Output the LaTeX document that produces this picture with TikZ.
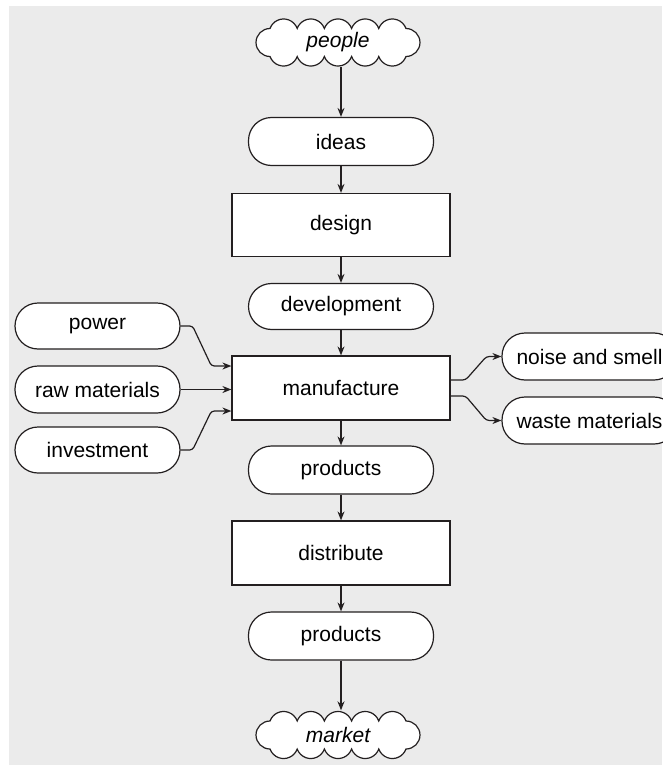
\documentclass[tikz,border=0pt]{standalone}
\usepackage{fontspec}
\setmainfont{Liberation Sans}
\usetikzlibrary{arrows.meta}
\definecolor{panel}{HTML}{EBEBEB}
\definecolor{ink}{HTML}{231F20}

% cloud outline around a point: name, position, text
\newcommand\puffcloud[3]{%
	\begin{scope}[shift={#2}, y=1pt]
		\draw[cloudline] (-68, -14) arc (270:90:14)
			\foreach \k in {1,...,5} {arc (160:20:14.47)}
			arc (90:-90:14)
			\foreach \k in {1,...,5} {arc (-20:-160:14.47)} -- cycle;
	\end{scope}
	\node[cloudtext] (#1) at #2 {#3};
}

\tikzset{
	base/.style={draw=ink, fill=white, line width=1.2pt, inner sep=0pt, font=\fontsize{21}{25}\selectfont},
	stagebox/.style={base, rectangle, minimum width=218pt, minimum height=63pt},
	itembox/.style={base, rectangle, rounded corners=23pt, minimum width=185pt, minimum height=48pt},
	sidebox/.style={itembox, minimum width=165pt, minimum height=46pt},
	outbox/.style={itembox, minimum width=175pt, minimum height=47pt},
	cloudline/.style={draw=ink, fill=white, line width=1.2pt},
	cloudtext/.style={inner sep=0pt, minimum width=165pt, minimum height=49pt, font=\fontsize{21}{25}\selectfont\itshape},
	flow/.style={draw=ink, line width=1.2pt, rounded corners=3pt, -{Stealth[length=9pt,width=7pt]}}
}

\begin{document}
\begin{tikzpicture}[x=1pt, y=-1pt]
			%%%%% START %%%%%
			\useasboundingbox (0, 0) rectangle (662, 765);
			\fill[panel] (9, 6) rectangle (662, 765);
			
			% main column
			\puffcloud{people}{(338, 42.5)}{people}
			\node[itembox] (ideas) at (341, 141.5) {ideas};
			\node[stagebox] (design) at (341, 225) {design};
			\node[itembox, minimum height=46pt] (devel) at (341, 306.5) {development};
			\node[stagebox, minimum height=64pt] (manuf) at (341, 388) {manufacture};
			\node[itembox] (prod) at (341, 470) {products};
			\node[stagebox, minimum height=64pt] (distr) at (341, 553) {distribute};
			\node[itembox] (prodb) at (341, 636) {products};
			\puffcloud{market}{(338, 735)}{market}
			
			% inputs and outputs of manufacture
			\node[sidebox] (power) at (97.5, 326) {power};
			\node[sidebox, minimum height=47pt] (raw) at (97.5, 389.5) {raw materials};
			\node[sidebox] (invest) at (97.5, 450) {investment};
			\node[outbox] (noise) at (589.5, 356.5) {noise and smell};
			\node[outbox] (waste) at (589.5, 420.5) {waste materials};
			
			\coordinate (in1) at ([yshift=22pt]manuf.west);
			\coordinate (in3) at ([yshift=-23pt]manuf.west);
			\coordinate (out1) at ([yshift=8pt]manuf.east);
			\coordinate (out2) at ([yshift=-8pt]manuf.east);
			
			\draw[flow] (people.south -| ideas.north) -- (ideas);
			\draw[flow] (ideas) -- (design);
			\draw[flow] (design) -- (devel);
			\draw[flow] (devel) -- (manuf);
			\draw[flow] (manuf) -- (prod);
			\draw[flow] (prod) -- (distr);
			\draw[flow] (distr) -- (prodb);
			\draw[flow] (prodb) -- (market.north -| prodb.south);
			
			\draw[flow] (power.east) -- ++(12, 0) -- ([xshift=-20pt]in1) -- (in1);
			\draw[flow] (raw.east) -- (raw.east -| manuf.west);
			\draw[flow] (invest.east) -- ++(12, 0) -- ([xshift=-20pt]in3) -- (in3);
			
			\draw[flow] (out1) -- ++(15, 0) -- ([xshift=-15pt]noise.west) -- (noise.west);
			\draw[flow] (out2) -- ++(15, 0) -- ([xshift=-15pt]waste.west) -- (waste.west);
			%%%%% END %%%%%
\end{tikzpicture}
\end{document}
